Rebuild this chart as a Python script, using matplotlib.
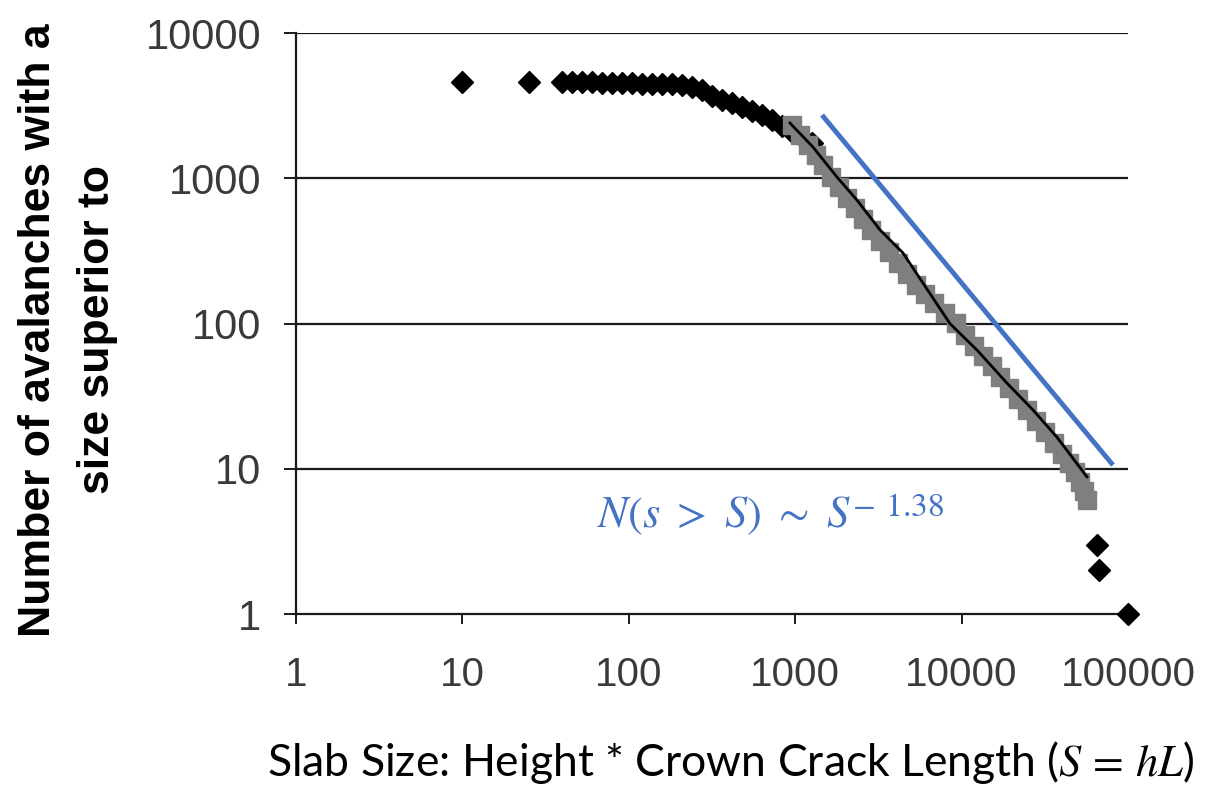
import matplotlib
matplotlib.use("Agg")
import matplotlib.pyplot as plt
from matplotlib.ticker import FixedLocator, FuncFormatter, NullLocator

# ---- data ----
black_x = [10, 25, 39.7, 45.6, 52.3, 60.1, 69.0, 79.3, 91.0, 104.5, 120, 138, 158,
           182, 209, 240, 275, 316, 363, 417, 479, 550, 631, 726, 834, 957, 1099, 1262,
           65150, 67000, 100000]
black_y = [4620, 4620, 4600, 4600, 4590, 4570, 4560, 4540, 4525, 4510, 4490, 4470, 4450,
           4430, 4380, 4250, 4055, 3683, 3459, 3297, 3097, 2904, 2725, 2518, 2290, 2082, 1923, 1749,
           3, 2, 1]

grey_x = [957, 1069, 1194, 1334, 1469, 1641, 1833, 2048, 2288, 2555, 2856, 3236, 3664,
          4150, 4699, 5321, 6026, 6823, 7943, 9247, 10470, 11890, 13450, 15240, 17020,
          19280, 21830, 24720, 27990, 31700, 35890, 40090, 44160, 47970, 51520, 54450, 56750]
grey_y = [2328, 1986, 1694, 1445, 1233, 1021, 871, 731, 624, 524, 441, 370, 310,
          261, 219, 184, 160, 138, 118, 101, 83.4, 70.0, 59.7, 50.9, 42.8,
          36.0, 30.2, 25.4, 21.3, 17.9, 15.0, 12.6, 11.0, 9.5, 8.1, 7.0, 6.1]

trace_x = [931, 1279, 1783, 2351, 3236, 4446, 8511, 12380, 18740, 26870, 37430, 56700]
trace_y = [2400, 1641, 1020, 708, 441, 306, 100, 65.7, 38.9, 25.4, 16.5, 8.8]

fit_x = [1450, 81300]
fit_y = [2725, 10.6]

x_ticks = [1, 10, 100, 1000, 10000, 100000]
y_ticks = [1, 10, 100, 1000, 10000]

BLUE = "#4472C4"
plt.rcParams["mathtext.fontset"] = "stix"

fig = plt.figure(figsize=(12.07, 7.86), dpi=100)
ax = fig.add_axes([0.2452, 0.2188, 0.9345 - 0.2452, 0.958 - 0.2188])

ax.set_xscale("log")
ax.set_yscale("log")
ax.set_xlim(1, 100000)
ax.set_ylim(1, 10000)

for yv in y_ticks[1:]:
    ax.axhline(yv, color="#1a1a1a", lw=1.6, zorder=1)

ax.plot(black_x, black_y, linestyle="none", marker="D", ms=11, color="black",
        zorder=3, clip_on=False)
ax.plot(grey_x, grey_y, linestyle="none", marker="s", ms=13.5, color="#7f7f7f",
        zorder=4)
ax.plot(trace_x, trace_y, color="black", lw=2.0, zorder=5)
ax.plot(fit_x, fit_y, color=BLUE, lw=3.5, zorder=6, solid_capstyle="butt")

t = ax.text(64.4, 3.97, r"$N(s\ >\ S)\ \sim\ S$", color=BLUE, fontsize=32,
            ha="left", va="baseline", zorder=7)
ax.annotate(r"$-\;\,1.38$", xy=(1, 1), xycoords=t, xytext=(1, 3),
            textcoords="offset points", ha="left", va="top",
            color=BLUE, fontsize=24, zorder=7)

for s in ["top", "right"]:
    ax.spines[s].set_visible(False)
for s in ["left", "bottom"]:
    ax.spines[s].set_linewidth(1.6)
    ax.spines[s].set_color("#1a1a1a")

ax.xaxis.set_major_locator(FixedLocator(x_ticks))
ax.yaxis.set_major_locator(FixedLocator(y_ticks))
ax.xaxis.set_minor_locator(NullLocator())
ax.yaxis.set_minor_locator(NullLocator())
fmt = FuncFormatter(lambda v, _: f"{int(round(v))}")
ax.xaxis.set_major_formatter(fmt)
ax.yaxis.set_major_formatter(fmt)

ax.tick_params(axis="x", direction="out", length=7.5, width=1.4, pad=23,
               labelsize=29, labelcolor="#3a3a3a", color="#1a1a1a")
ax.tick_params(axis="y", direction="out", length=9, width=1.4, pad=16,
               labelsize=30, labelcolor="#3a3a3a", color="#1a1a1a")
for lab in ax.get_xticklabels() + ax.get_yticklabels():
    lab.set_fontfamily(["Liberation Sans", "DejaVu Sans"])

fig.text(68 / 1207, 1 - 330 / 786,
         "Number of avalanches with a\nsize superior to",
         rotation=90, ha="center", va="center", multialignment="center",
         fontsize=32, fontweight="bold", linespacing=1.55,
         family=["Liberation Sans", "DejaVu Sans"])

fig.text(730 / 1207, 1 - 763 / 786,
         r"Slab Size: Height * Crown Crack Length ($S\,=\,hL$)",
         ha="center", va="center", fontsize=32, family=["Lato", "DejaVu Sans"])

fig.savefig("out.png", dpi=100)
